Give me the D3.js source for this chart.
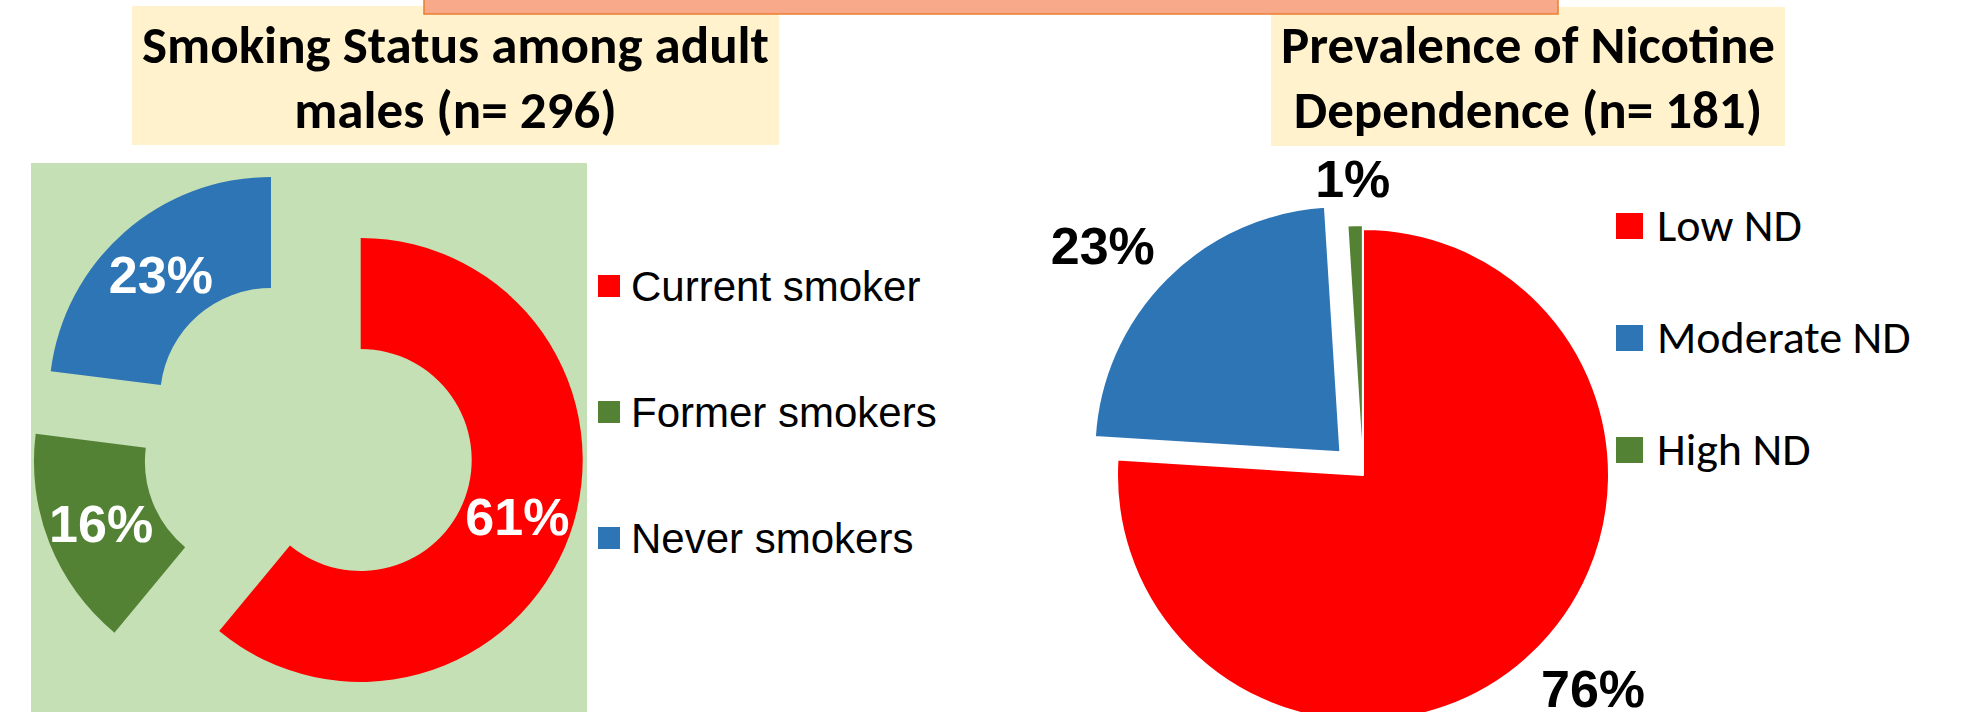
<!DOCTYPE html>
<html>
<head>
<meta charset="utf-8">
<script src="https://cdn.jsdelivr.net/npm/d3@7"></script>
<style>
  body { margin: 0; background: #fff; }
  svg { display: block; }
</style>
</head>
<body>
<div class="displayArea"></div>
<script>
// smoking status among adult males (donut, left)
const statusLabels = ["Current smoker", "Former smokers", "Never smokers"];
const statusValues = [61, 16, 23];
const statusColors = ["#FF0000", "#548235", "#2E75B6"];

// nicotine dependence among smokers (pie, right)
const ndLabels = ["Low ND", "Moderate ND", "High ND"];
const ndValues = [76, 23, 1];
const ndColors = ["#FF0000", "#2E75B6", "#548235"];

const titleLeft = ["Smoking Status among adult", "males (n= 296)"];
const titleRight = ["Prevalence of Nicotine", "Dependence (n= 181)"];

const W = 1968, H = 712;
const titleFont = "Carlito, Calibri, Lato, 'Open Sans', sans-serif";
const arialFont = "'Liberation Sans', Arial, sans-serif";

const svg = d3.select(".displayArea").append("svg")
    .attr("width", W)
    .attr("height", H);

// 标题框
function titleBox(x, y, w, h, lines) {
    const g = svg.append("g");
    g.append("rect")
        .attr("x", x).attr("y", y)
        .attr("width", w).attr("height", h)
        .attr("fill", "#FFF2CC");
    g.selectAll("text")
        .data(lines)
        .join("text")
        .attr("x", x + w / 2)
        .attr("y", (d, i) => 63 + i * 65)
        .attr("text-anchor", "middle")
        .style("font-family", titleFont)
        .style("font-weight", "bold")
        .style("font-size", "53px")
        .attr("fill", "#000")
        .text(d => d);
}
titleBox(132, 6, 647, 139, titleLeft);
titleBox(1271, 7, 514, 139, titleRight);

// banner strip at the top
svg.append("rect")
    .attr("x", 424).attr("y", -4)
    .attr("width", 1134).attr("height", 18)
    .attr("fill", "#F8A98A")
    .attr("stroke", "#ED7D31")
    .attr("stroke-width", 1.5);

// ---------- left: exploded donut ----------
svg.append("rect")
    .attr("x", 31).attr("y", 163)
    .attr("width", 556).attr("height", H - 163 + 5)
    .attr("fill", "#C5E0B4");

const pie = d3.pie().sort(null).value(d => d);
const donutArcs = pie(statusValues);
const donutCenter = [308, 441];
const donutExplode = 56;
const donutArc = d3.arc().innerRadius(111).outerRadius(222);

const mid = d => (d.startAngle + d.endAngle) / 2;

const donut = svg.append("g")
    .attr("transform", `translate(${donutCenter[0]},${donutCenter[1]})`);

const donutSlices = donut.selectAll(".slice")
    .data(donutArcs)
    .join("g")
    .attr("class", "slice")
    .attr("transform", d => `translate(${Math.sin(mid(d)) * donutExplode},${-Math.cos(mid(d)) * donutExplode})`);

donutSlices.append("path")
    .attr("d", donutArc)
    .attr("fill", (d, i) => statusColors[i]);

donutSlices.append("text")
    .attr("transform", d => `translate(${donutArc.centroid(d)})`)
    .attr("dy", "0.36em")
    .attr("text-anchor", "middle")
    .style("font-family", arialFont)
    .style("font-weight", "bold")
    .style("font-size", "52px")
    .attr("fill", "#fff")
    .text(d => d.data + "%");

// 图例
const legendLeft = svg.append("g");
const rowL = d3.scaleLinear().domain([0, 1]).range([286, 412]);
statusLabels.forEach((name, i) => {
    const cy = rowL(i);
    legendLeft.append("rect")
        .attr("x", 598).attr("y", cy - 11)
        .attr("width", 22).attr("height", 22)
        .attr("fill", statusColors[i]);
    legendLeft.append("text")
        .attr("x", 631).attr("y", cy + 15)
        .style("font-family", arialFont)
        .style("font-size", "42px")
        .attr("fill", "#000")
        .text(name);
});

// ---------- right: pie with exploded slices ----------
const pieArcs = pie(ndValues);
const pieCenter = [1363, 475];
const pieR = 246;
const pieExplode = [0, 32, 4];
const pieArc = d3.arc().innerRadius(0).outerRadius(pieR);

const pieG = svg.append("g")
    .attr("transform", `translate(${pieCenter[0]},${pieCenter[1]})`);

const pieSlices = pieG.selectAll(".slice")
    .data(pieArcs)
    .join("g")
    .attr("class", "slice")
    .attr("transform", (d, i) => `translate(${Math.sin(mid(d)) * pieExplode[i]},${-Math.cos(mid(d)) * pieExplode[i]})`);

pieSlices.append("path")
    .attr("d", pieArc)
    .attr("fill", (d, i) => ndColors[i])
    .attr("stroke", "#fff")
    .attr("stroke-width", 2)
    .attr("stroke-linejoin", "round");

// outside-end labels
const labelR = 280, capH = 38;
pieSlices.append("text")
    .attr("text-anchor", "middle")
    .attr("dy", "0.36em")
    .style("font-family", arialFont)
    .style("font-weight", "bold")
    .style("font-size", "52px")
    .attr("fill", "#000")
    .text(d => d.data + "%")
    .attr("transform", function (d) {
        const a = mid(d);
        const w = this.getComputedTextLength();
        const x = Math.sin(a) * (labelR + w / 2 + 4);
        const y = -Math.cos(a) * (labelR + capH / 2 - 6);
        return `translate(${x},${y})`;
    });

const legendRight = svg.append("g");
const rowR = d3.scaleLinear().domain([0, 1]).range([226, 338]);
ndLabels.forEach((name, i) => {
    const cy = rowR(i);
    legendRight.append("rect")
        .attr("x", 1616).attr("y", cy - 13)
        .attr("width", 27).attr("height", 26)
        .attr("fill", ndColors[i]);
    legendRight.append("text")
        .attr("x", 1657).attr("y", cy + 15)
        .style("font-family", titleFont)
        .style("font-size", "46px")
        .attr("fill", "#000")
        .text(name);
});
</script>
</body>
</html>
